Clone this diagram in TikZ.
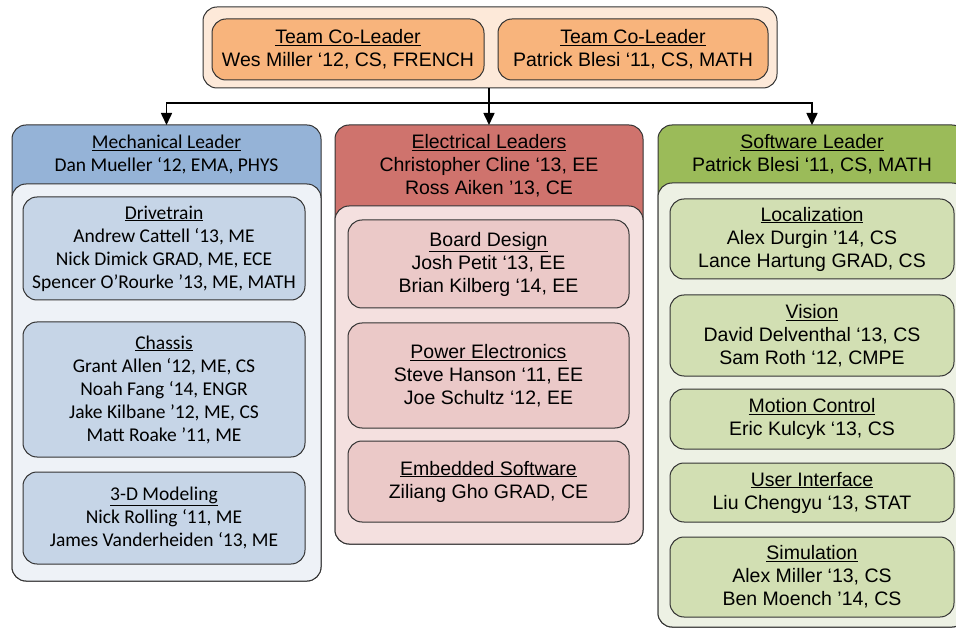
\documentclass[tikz,border=0pt]{standalone}
\usepackage{fontspec}
\setmainfont{Liberation Sans}
\newfontfamily\calfont{Carlito}
\usetikzlibrary{arrows.meta}
\definecolor{topbg}{HTML}{FDE9D9}
\definecolor{topin}{HTML}{F8B47C}
\definecolor{mechhead}{HTML}{95B3D7}
\definecolor{mechbody}{HTML}{EEF2F7}
\definecolor{mechsub}{HTML}{C6D5E7}
\definecolor{elechead}{HTML}{CF736D}
\definecolor{elecbody}{HTML}{F4E0DF}
\definecolor{elecsub}{HTML}{EBC9C8}
\definecolor{softhead}{HTML}{9BBB59}
\definecolor{softbody}{HTML}{EDF1E4}
\definecolor{softsub}{HTML}{D2DFB3}
\tikzset{
  bx/.style={draw=black!80, line width=1pt, rounded corners=14pt, inner sep=0pt, outer sep=0pt, anchor=center},
  atxt/.style={align=center, font=\fontsize{19.5}{23}\selectfont},
  ctxt/.style={align=center, font=\calfont\fontsize{19.5}{23}\selectfont},
  conn/.style={line width=1.6pt, -{Triangle[length=12pt,width=11pt]}},
}
\begin{document}
\begin{tikzpicture}[x=1pt,y=-1pt]
\useasboundingbox (0,0) rectangle (956,628);
\clip (0,0) rectangle (956,628);
\fill[white] (0,0) rectangle (956,628);

% top
\node[bx, fill=topbg, minimum width=574pt, minimum height=81pt] (top) at (490,47.5) {};
\node[bx, fill=topin, minimum width=272pt, minimum height=61pt, atxt] (lead1) at (348,49.5) {\underline{Team Co-Leader}\\Wes Miller ‘12, CS, FRENCH};
\node[bx, fill=topin, minimum width=270pt, minimum height=61pt, atxt] (lead2) at (633,49.5) {\underline{Team Co-Leader}\\Patrick Blesi ‘11, CS, MATH};

% mechanical
\node[bx, fill=mechhead, minimum width=309pt, minimum height=456pt] (mech) at (166.5,353) {};
\node[bx, fill=mechbody, minimum width=309pt, minimum height=397pt] (mechb) at (166.5,382.5) {};
\node[ctxt] (mecht) at (166.5,154.5) {\underline{Mechanical Leader}\\Dan Mueller ‘12, EMA, PHYS};
\node[bx, fill=mechsub, minimum width=282pt, minimum height=103pt, ctxt] (drive) at (164,248.5) {\underline{Drivetrain}\\Andrew Cattell ‘13, ME\\Nick Dimick GRAD, ME, ECE\\Spencer O’Rourke ’13, ME, MATH};
\node[bx, fill=mechsub, minimum width=282pt, minimum height=135pt, ctxt] (chassis) at (164,389.5) {\underline{Chassis}\\Grant Allen ‘12, ME, CS\\Noah Fang ‘14, ENGR\\Jake Kilbane ’12, ME, CS\\Matt Roake ’11, ME};
\node[bx, fill=mechsub, minimum width=282pt, minimum height=92pt, ctxt] (model) at (164,518) {\underline{3-D Modeling}\\Nick Rolling ‘11, ME\\James Vanderheiden ‘13, ME};

% electrical
\node[bx, fill=elechead, minimum width=308pt, minimum height=419pt] (elec) at (489,334.5) {};
\node[bx, fill=elecbody, minimum width=308pt, minimum height=338pt] (elecb) at (489,375) {};
\node[atxt] (elect) at (489,165.5) {\underline{Electrical Leaders}\\Christopher Cline ‘13, EE\\Ross Aiken ’13, CE};
\node[bx, fill=elecsub, minimum width=281pt, minimum height=88pt, atxt] (board) at (488.5,264) {\underline{Board Design}\\Josh Petit ‘13, EE\\Brian Kilberg ‘14, EE};
\node[bx, fill=elecsub, minimum width=281pt, minimum height=105pt, atxt] (power) at (488.5,375.5) {\underline{Power Electronics}\\Steve Hanson ‘11, EE\\Joe Schultz ‘12, EE};
\node[bx, fill=elecsub, minimum width=281pt, minimum height=81pt, atxt] (embed) at (488.5,481.5) {\underline{Embedded Software}\\Ziliang Gho GRAD, CE};

% software
\node[bx, fill=softhead, minimum width=308pt, minimum height=502pt] (soft) at (812,376) {};
\node[bx, fill=softbody, minimum width=308pt, minimum height=444pt] (softb) at (812,405) {};
\node[atxt] (softt) at (812,154) {\underline{Software Leader}\\Patrick Blesi ‘11, CS, MATH};
\node[bx, fill=softsub, minimum width=284pt, minimum height=80pt, atxt] (local) at (812,239) {\underline{Localization}\\Alex Durgin ’14, CS\\Lance Hartung GRAD, CS};
\node[bx, fill=softsub, minimum width=284pt, minimum height=81pt, atxt] (vision) at (812,335.5) {\underline{Vision}\\David Delventhal ‘13, CS\\Sam Roth ‘12, CMPE};
\node[bx, fill=softsub, minimum width=284pt, minimum height=60pt, atxt] (motion) at (812,419) {\underline{Motion Control}\\Eric Kulcyk ‘13, CS};
\node[bx, fill=softsub, minimum width=284pt, minimum height=59pt, atxt] (ui) at (812,492.5) {\underline{User Interface}\\Liu Chengyu ‘13, STAT};
\node[bx, fill=softsub, minimum width=284pt, minimum height=80pt, atxt] (sim) at (812,577) {\underline{Simulation}\\Alex Miller ‘13, CS\\Ben Moench ’14, CS};

% connectors
\coordinate (bus) at (489,103);
\draw[conn] (top.south -| elec.north) -- (elec.north);
\draw[conn] (bus) -| (mech.north);
\draw[conn] (bus) -| (soft.north);
\end{tikzpicture}
\end{document}
